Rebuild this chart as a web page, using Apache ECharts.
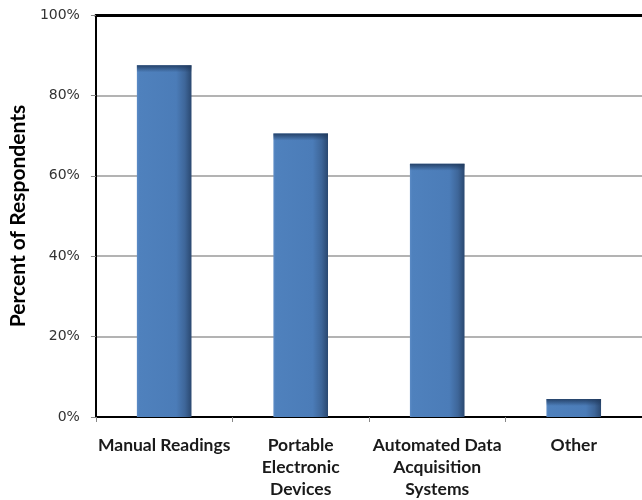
<!DOCTYPE html>
<html>
<head>
<meta charset="utf-8">
<script src="https://cdn.jsdelivr.net/npm/echarts@6/dist/echarts.min.js"></script>
<style>html,body{margin:0;padding:0;background:#fff}#c{width:642px;height:500px}</style>
</head>
<body>
<div id="c"></div>
<script>
const categories = ['Manual Readings', 'Portable\nElectronic\nDevices', 'Automated Data\nAcquisition\nSystems', 'Other'];
const values = [87.5, 70.5, 63, 4.5];
const yTicks = [0, 20, 40, 60, 80, 100];

const chart = echarts.init(document.getElementById('c'), null, {renderer: 'canvas'});
const barGrad = new echarts.graphic.LinearGradient(0, 0, 1, 0, [
  {offset: 0, color: '#5d8cc6'},
  {offset: 0.04, color: '#4f81bd'},
  {offset: 0.72, color: '#4b7cb8'},
  {offset: 0.88, color: '#3e6699'},
  {offset: 1, color: '#2a4870'}
]);
chart.setOption({
  animation: false,
  grid: {left: 94, right: -2, top: 15, bottom: 82},
  xAxis: [{
    type: 'category',
    data: categories,
    axisLine: {lineStyle: {color: '#000', width: 2}},
    axisTick: {show: true, length: 5, lineStyle: {color: '#888', width: 1}},
    axisLabel: {
      interval: 0, margin: 17, color: '#1a1a1a',
      fontFamily: 'Lato', fontWeight: 'bold', fontSize: 17.5, lineHeight: 22
    }
  }, {
    type: 'category',
    position: 'top',
    data: categories,
    axisLine: {show: true, lineStyle: {color: '#000', width: 3}},
    axisTick: {show: false},
    axisLabel: {show: false}
  }],
  yAxis: {
    type: 'value',
    min: 0, max: 100, interval: 20,
    name: 'Percent of Respondents',
    nameLocation: 'middle',
    nameRotate: 90,
    nameGap: 66,
    nameTextStyle: {fontFamily: 'Lato', fontWeight: 'bold', fontSize: 21, color: '#000'},
    axisLine: {show: true, lineStyle: {color: '#000', width: 2}},
    axisTick: {show: true, length: 5, lineStyle: {color: '#888', width: 1}},
    axisLabel: {
      margin: 16, color: '#333', fontFamily: 'DejaVu Sans', fontSize: 14,
      formatter: v => yTicks.includes(v) ? v + '%' : ''
    },
    splitLine: {show: true, lineStyle: {color: '#b3b3b3', width: 2}}
  },
  series: [{
    type: 'bar',
    data: values,
    barWidth: '40%',
    itemStyle: {color: barGrad},
    z: 2
  }, {
    type: 'custom',
    data: values.map((v, i) => [i, v]),
    z: 3,
    renderItem: function (params, api) {
      const top = api.coord([api.value(0), api.value(1)]);
      const band = api.size([1, 0])[0];
      const w = band * 0.4;
      const h = 7;
      return {
        type: 'rect',
        shape: {x: top[0] - w / 2, y: top[1], width: w, height: h},
        style: {
          fill: new echarts.graphic.LinearGradient(0, 0, 0, 1, [
            {offset: 0, color: 'rgba(30,55,90,0.85)'},
            {offset: 1, color: 'rgba(30,55,90,0)'}
          ])
        }
      };
    }
  }]
});
</script>
</body>
</html>
